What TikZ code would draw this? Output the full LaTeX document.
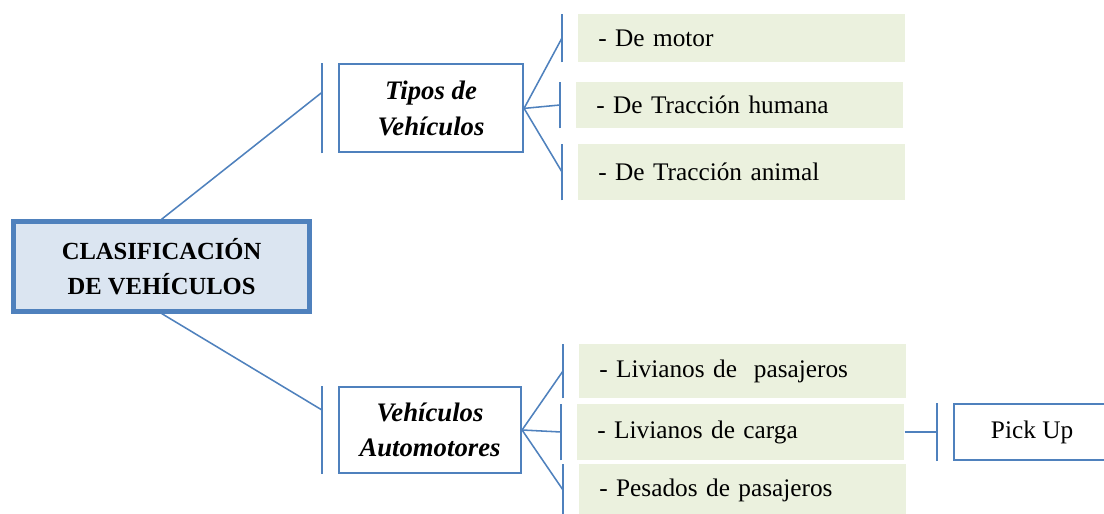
\documentclass[tikz,border=0pt]{standalone}
\usepackage{fontspec}
\setmainfont{Liberation Serif}

\definecolor{lineblue}{HTML}{4F81BD}
\definecolor{mainfill}{HTML}{DBE5F1}
\definecolor{itemfill}{HTML}{EBF1DE}

\tikzset{
  mainbox/.style={draw=lineblue, line width=3pt, fill=mainfill, minimum width=7.4cm, minimum height=2.25cm, align=center, font=\fontsize{17.5}{25}\selectfont\bfseries},
  catbox/.style={draw=lineblue, line width=1.5pt, fill=white, minimum width=4.6cm, minimum height=2.2cm, align=center, font=\fontsize{19}{25}\selectfont\bfseries\itshape},
  itembox/.style={fill=itemfill, anchor=west, text width=7.175cm, inner xsep=0.5cm, align=left, font=\fontsize{18}{20}\selectfont},
  pickbox/.style={draw=lineblue, line width=1.5pt, anchor=west, minimum width=3.9cm, minimum height=1.4cm, font=\fontsize{18}{20}\selectfont},
  bar/.style={draw=lineblue, line width=1.2pt},
  link/.style={draw=lineblue, line width=1.1pt},
}

\begin{document}
\begin{tikzpicture}
    \useasboundingbox (0,0) rectangle (27.6,12.85);

    % Main box on the left
    \node[mainbox] (clasif) at (4.04,6.19) {CLASIFICACIÓN\\DE VEHÍCULOS};

    % Two categories
    \node[catbox] (tipos) at (10.775,10.14) {Tipos de\\Vehículos};
    \node[catbox, minimum width=4.55cm, minimum height=2.15cm] (autom) at (10.75,2.1) {Vehículos\\Automotores};

    % Green boxes of the first category
    \node[itembox, minimum height=1.2cm] (motor) at (14.45,11.9) {- De motor};
    \node[itembox, minimum height=1.15cm] (humana) at (14.4,10.225) {- De Tracción humana};
    \node[itembox, minimum height=1.4cm] (animal) at (14.45,8.55) {- De Tracción animal};

    % Green boxes of the second category
    \node[itembox, minimum height=1.35cm] (livpas) at (14.475,3.575) {- Livianos de~ pasajeros};
    \node[itembox, minimum height=1.4cm] (livcar) at (14.425,2.05) {- Livianos de carga};
    \node[itembox, minimum height=1.3cm] (pespas) at (14.475,0.6) {- Pesados de pasajeros};

    % Last box on the right
    \node[pickbox] (pickup) at (23.825,2.05) {Pick Up};

    % Brackets in front of the boxes
    \foreach \n in {tipos,autom,motor,humana,animal,livpas,livcar,pespas,pickup}
        \draw[bar] ([xshift=-4mm]\n.south west) -- ([xshift=-4mm]\n.north west);

    % Connectors
    \draw[link] (clasif.north) -- ([xshift=-4mm,yshift=4mm]tipos.west);
    \draw[link] (clasif.south) -- ([xshift=-4mm,yshift=5mm]autom.west);
    \foreach \n in {motor,humana,animal}
        \draw[link] (tipos.east) -- ([xshift=-4mm]\n.west);
    \foreach \n in {livpas,livcar,pespas}
        \draw[link] (autom.east) -- ([xshift=-4mm]\n.west);
    \draw[link] (livcar.east) -- ([xshift=-4mm]pickup.west);
\end{tikzpicture}
\end{document}
